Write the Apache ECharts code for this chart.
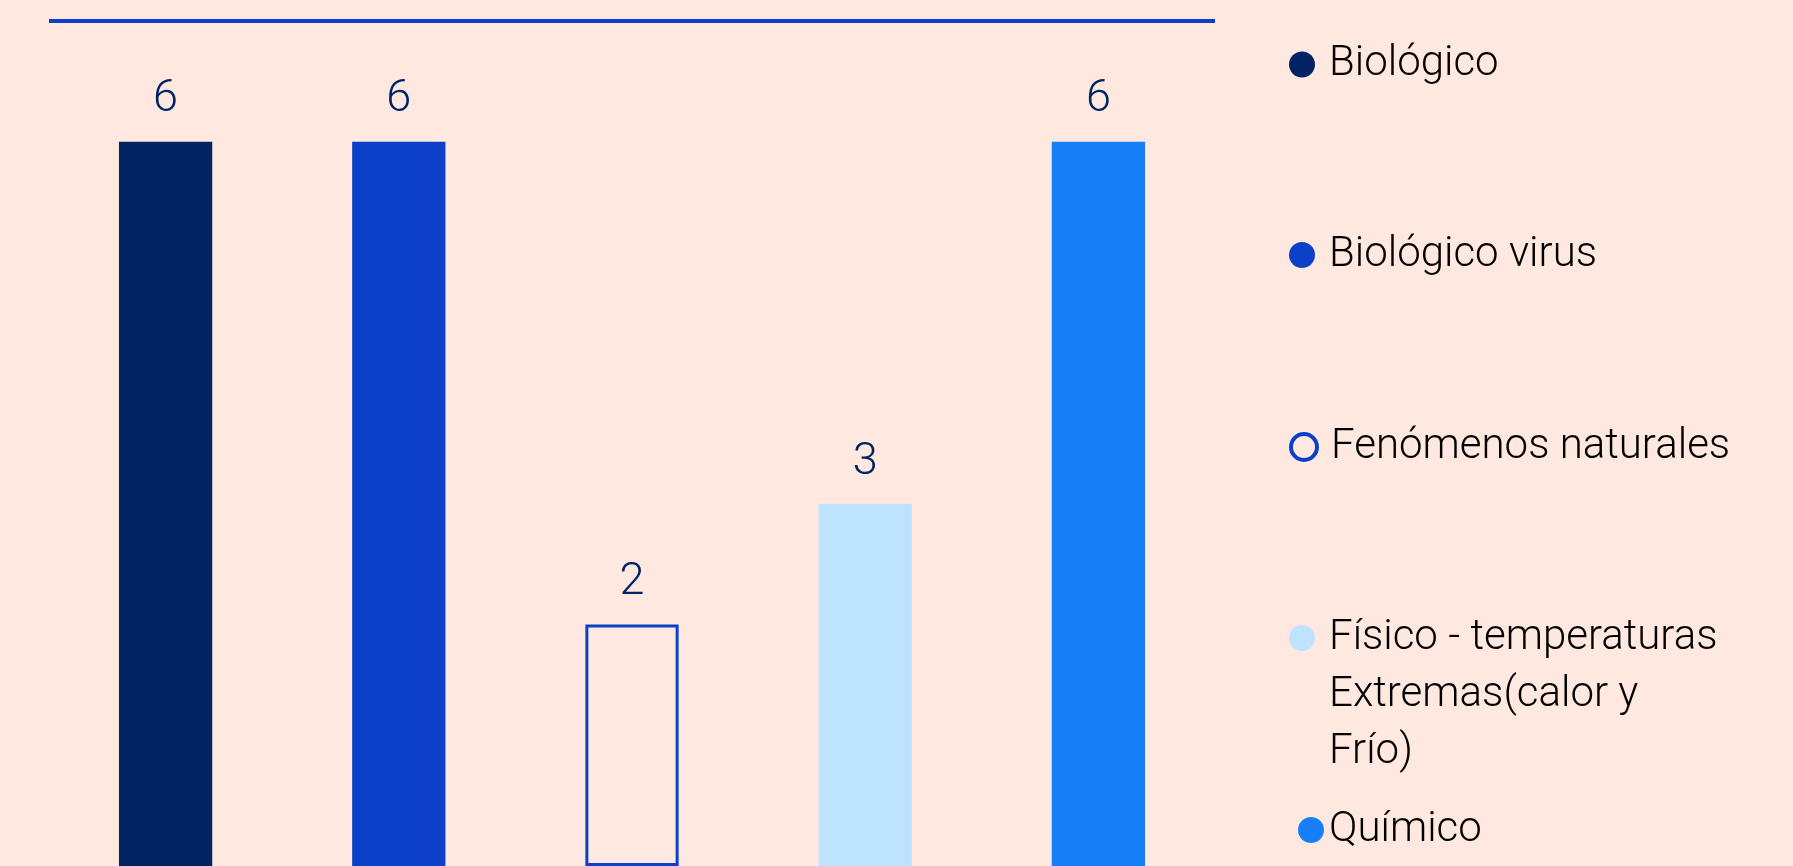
<!DOCTYPE html>
<html><head><meta charset="utf-8">
<script src="https://cdn.jsdelivr.net/npm/echarts@6/dist/echarts.min.js"></script>
<style>html,body{margin:0;padding:0;background:#FFE8DF;}#c{width:1793px;height:866px;}</style>
</head><body><div id="c"></div>
<script>
// ---- data ----
const categories = ['Biológico', 'Biológico virus', 'Fenómenos naturales', 'Físico - temperaturas Extremas(calor y Frío)', 'Químico'];
const values = [6, 6, 2, 3, 6];
const legendLabels = ['Biológico', 'Biológico virus', 'Fenómenos naturales', 'Físico - temperaturas\nExtremas(calor y\nFrío)', 'Químico'];
const yMin = 0, yMax = 7;

// ---- styles ----
const fills = ['#002364', '#0C40C9', 'rgba(0,0,0,0)', '#BDE3FE', '#1780F8'];
const FONT = 'Roboto, "Noto Sans", sans-serif';

const series = categories.map((name, i) => ({
  name: name,
  type: 'bar',
  stack: 'all',
  barWidth: '40%',
  data: categories.map((_, j) => (j === i ? values[i] : null)),
  itemStyle: i === 2
    ? { color: 'rgba(0,0,0,0)', borderColor: '#0C40C9', borderWidth: 3 }
    : { color: fills[i] },
  label: {
    show: true, position: 'top', distance: 19,
    color: '#002364', fontSize: 45, fontFamily: FONT, fontWeight: 300
  }
}));

const legendTops = [36, 226.5, 418.5, 495.5, 801.5];
const legendLefts = [1289, 1289, 1289, 1289, 1298];
const legends = categories.map((name, i) => {
  const item = { name: name, icon: 'circle' };
  if (i === 2) item.itemStyle = { color: 'rgba(0,0,0,0)', borderColor: '#0C40C9', borderWidth: 4 };
  else item.itemStyle = { color: fills[i], borderWidth: 0 };
  // multi-line label: two leading empty lines keep the first text line level with the icon
  const label = i === 3 ? '\n\n' + legendLabels[i] : legendLabels[i];
  return {
    data: [item],
    orient: 'vertical',
    left: legendLefts[i],
    top: legendTops[i],
    padding: 0,
    itemWidth: 26,
    itemHeight: 26,
    selectedMode: false,
    formatter: () => label,
    textStyle: {
      fontSize: 42, lineHeight: 57, color: '#000', fontFamily: FONT, fontWeight: 300,
      padding: i === 4 ? [0, 0, 0, 0] : [0, 0, 0, 9]
    }
  };
});

const chart = echarts.init(document.getElementById('c'));
chart.setOption({
  animation: false,
  backgroundColor: '#FFE8DF',
  grid: { left: 49, right: 578, top: 21, bottom: -5, containLabel: false },
  xAxis: {
    type: 'category', data: categories, position: 'top',
    axisLine: { show: true, onZero: false, lineStyle: { color: '#0C40C9', width: 4, cap: 'butt' } },
    axisTick: { show: false }, axisLabel: { show: false }, splitLine: { show: false }
  },
  yAxis: { type: 'value', min: yMin, max: yMax, show: false },
  legend: legends,
  series: series
});
</script></body></html>
